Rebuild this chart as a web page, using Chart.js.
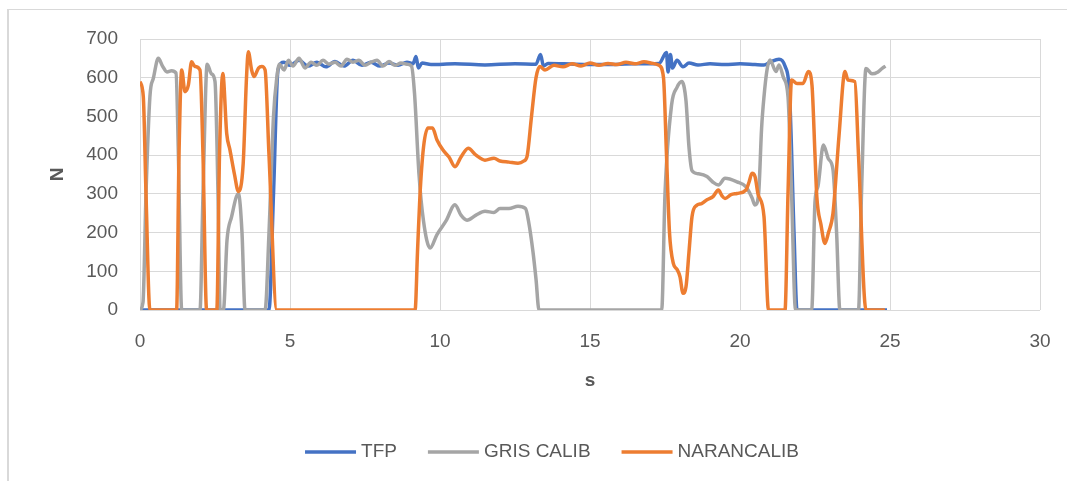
<!DOCTYPE html>
<html>
<head>
<meta charset="utf-8">
<script src="https://cdn.jsdelivr.net/npm/chart.js@4/dist/chart.umd.min.js"></script>
<style>
	html, body { margin: 0; padding: 0; background: #fff; overflow: hidden; }
	#wrap { position: relative; width: 1067px; height: 481px; }
	#frame { position: absolute; left: 7px; top: 9px; width: 1100px; height: 500px; border-top: 1px solid #d9d9d9; border-left: 2px solid #d9d9d9; }
	canvas { position: absolute; left: 0; top: 0; }
</style>
</head>
<body>
<div id="wrap">
	<div id="frame"></div>
	<canvas id="chart" width="1067" height="481"></canvas>
</div>
<script>
	'use strict';

	var seriesNames = ['TFP', 'GRIS CALIB', 'NARANCALIB'];
	var seriesColors = ['#4472C4', '#A5A5A5', '#ED7D31'];

	var tfpX = [0, 4.3, 4.45, 4.6, 4.8, 5.0, 5.3, 5.6, 5.9, 6.2, 6.5, 6.8, 7.1, 7.4, 7.7, 8.0, 8.3, 8.6, 8.9, 9.1, 9.2, 9.28, 9.4, 9.7, 10.5, 11.5, 12.5, 13.2, 13.35, 13.45, 13.6, 14.5, 15.5, 16.5, 17.3, 17.55, 17.6, 17.68, 17.75, 17.9, 18.1, 18.3, 18.6, 19.0, 19.5, 20.0, 20.5, 20.8, 21.0, 21.3, 21.5, 21.65, 21.8, 21.9, 24.9];
	var tfpY = [0, 0, 300, 620, 640, 632, 645, 630, 640, 628, 642, 630, 645, 632, 640, 630, 638, 632, 640, 636, 655, 625, 638, 634, 636, 633, 636, 635, 660, 630, 637, 635, 634, 636, 637, 665, 615, 660, 625, 645, 628, 638, 633, 636, 634, 636, 634, 633, 640, 648, 630, 560, 200, 0, 0];

	var grisX = [0, 0.1, 0.2, 0.33, 0.45, 0.61, 0.75, 0.9, 1.05, 1.2, 1.28, 1.39, 2.0, 2.1, 2.24, 2.38, 2.5, 2.6, 2.67, 2.78, 2.9, 3.05, 3.28, 3.4, 3.5, 4.17, 4.3, 4.45, 4.56, 4.65, 4.8, 4.95, 5.1, 5.3, 5.5, 5.7, 5.9, 6.1, 6.3, 6.5, 6.7, 6.9, 7.1, 7.3, 7.5, 7.7, 7.9, 8.1, 8.3, 8.5, 8.7, 8.9, 9.05, 9.15, 9.3, 9.45, 9.67, 9.9, 10.2, 10.5, 10.7, 10.9, 11.2, 11.5, 11.8, 12.0, 12.3, 12.6, 12.85, 12.95, 13.1, 13.2, 13.3, 17.39, 17.5, 17.72, 17.9, 18.06, 18.2, 18.3, 18.4, 18.6, 18.9, 19.1, 19.28, 19.5, 19.9, 20.2, 20.4, 20.5, 20.62, 20.72, 20.8, 20.9, 21.0, 21.2, 21.3, 21.45, 21.6, 21.72, 21.85, 22.39, 22.5, 22.6, 22.78, 22.95, 23.1, 23.22, 23.33, 23.95, 24.05, 24.2, 24.4, 24.6, 24.75, 24.85];
	var grisY = [0, 20, 300, 551, 600, 650, 630, 615, 618, 612, 400, 0, 0, 300, 635, 610, 590, 300, 0, 0, 180, 240, 300, 200, 0, 0, 200, 500, 600, 635, 620, 645, 630, 650, 625, 640, 632, 645, 635, 640, 630, 648, 640, 645, 632, 640, 645, 630, 642, 632, 638, 635, 630, 560, 350, 230, 160, 195, 230, 272, 245, 232, 245, 255, 252, 262, 262, 268, 262, 230, 150, 80, 0, 0, 300, 530, 575, 590, 540, 420, 360, 352, 345, 330, 323, 340, 331, 318, 290, 271, 300, 470, 551, 620, 646, 616, 633, 600, 551, 300, 0, 0, 280, 320, 426, 390, 362, 200, 0, 0, 300, 624, 610, 615, 625, 630];

	var naranX = [0, 0.11, 0.2, 0.33, 1.22, 1.3, 1.39, 1.5, 1.61, 1.72, 1.83, 2.0, 2.1, 2.22, 2.56, 2.65, 2.76, 2.89, 3.0, 3.15, 3.28, 3.44, 3.55, 3.61, 3.72, 3.8, 3.95, 4.06, 4.17, 4.3, 4.56, 9.17, 9.25, 9.33, 9.45, 9.6, 9.75, 9.9, 10.1, 10.3, 10.5, 10.7, 10.94, 11.2, 11.5, 11.8, 12.0, 12.3, 12.6, 12.8, 12.9, 13.05, 13.2, 13.33, 13.5, 13.8, 14.1, 14.4, 14.7, 15.0, 15.3, 15.6, 15.9, 16.2, 16.5, 16.8, 17.1, 17.3, 17.45, 17.55, 17.65, 17.78, 17.9, 18.0, 18.1, 18.2, 18.3, 18.4, 18.55, 18.72, 18.9, 19.1, 19.28, 19.4, 19.5, 19.7, 19.9, 20.2, 20.3, 20.4, 20.5, 20.6, 20.8, 20.95, 21.5, 21.6, 21.72, 21.9, 22.1, 22.28, 22.4, 22.5, 22.56, 22.7, 22.83, 22.95, 23.1, 23.3, 23.5, 23.6, 23.83, 23.95, 24.2, 24.83];
	var naranY = [590, 551, 300, 0, 0, 400, 620, 564, 580, 641, 629, 620, 400, 0, 0, 400, 611, 456, 413, 350, 306, 379, 600, 667, 620, 603, 625, 629, 620, 400, 0, 0, 150, 293, 420, 470, 470, 439, 413, 395, 370, 395, 418, 400, 387, 392, 385, 382, 379, 385, 396, 500, 600, 629, 620, 632, 628, 636, 630, 638, 632, 637, 634, 640, 636, 641, 637, 632, 600, 400, 200, 120, 105, 86, 43, 60, 150, 241, 270, 275, 285, 293, 310, 295, 288, 298, 301, 310, 330, 353, 345, 300, 241, 0, 0, 300, 594, 585, 585, 616, 580, 400, 293, 220, 172, 200, 250, 450, 616, 594, 590, 400, 0, 0];

	var xTicks = [0, 5, 10, 15, 20, 25, 30];
	var yTicks = [0, 100, 200, 300, 400, 500, 600, 700];

	var textColor = '#595959';
	var gridColor = '#d9d9d9';
	var fontFamily = "'Liberation Sans', Arial, sans-serif";

	function toPoints(xs, ys) {
		var pts = [];
		for (var i = 0; i < xs.length; i++) {
			pts.push({x: xs[i], y: ys[i]});
		}
		return pts;
	}

	// legend drawn by hand to sit where Excel put it
	var excelLegend = {
		id: 'excelLegend',
		afterDraw: function (chart) {
			var ctx = chart.ctx,
				sampleWidth = 51,
				textGap = 5,
				itemGap = 31,
				centerX = 552,
				y = 452,
				widths = [],
				total = 0;

			ctx.save();
			ctx.font = '19px ' + fontFamily;
			seriesNames.forEach(function (name, i) {
				var w = sampleWidth + textGap + ctx.measureText(name).width;
				widths.push(w);
				total += w + (i > 0 ? itemGap : 0);
			});

			var x = centerX - total / 2;
			ctx.textBaseline = 'middle';
			ctx.textAlign = 'left';
			seriesNames.forEach(function (name, i) {
				ctx.strokeStyle = seriesColors[i];
				ctx.lineWidth = 3.5;
				ctx.beginPath();
				ctx.moveTo(x, y);
				ctx.lineTo(x + sampleWidth, y);
				ctx.stroke();
				ctx.fillStyle = textColor;
				ctx.fillText(name, x + sampleWidth + textGap, y);
				x += widths[i] + itemGap;
			});
			ctx.restore();
		}
	};

	var xsList = [tfpX, grisX, naranX];
	var ysList = [tfpY, grisY, naranY];

	new Chart(document.getElementById('chart'), {
		type: 'line',
		data: {
			datasets: seriesNames.map(function (name, i) {
				return {
					label: name,
					data: toPoints(xsList[i], ysList[i]),
					borderColor: seriesColors[i],
					backgroundColor: seriesColors[i],
					borderWidth: 3.5,
					pointRadius: 0,
					cubicInterpolationMode: 'monotone',
					fill: false,
					order: 3 - i
				};
			})
		},
		options: {
			responsive: false,
			animation: false,
			layout: {
				padding: {left: 0, right: 27, top: 39, bottom: 0}
			},
			plugins: {
				legend: {display: false},
				tooltip: {enabled: false}
			},
			scales: {
				x: {
					type: 'linear',
					min: 0,
					max: 30,
					afterBuildTicks: function (scale) {
						scale.ticks = xTicks.map(function (v) { return {value: v}; });
					},
					afterFit: function (scale) {
						scale.height = 171;
						scale.paddingLeft = 0;
						scale.paddingRight = 0;
					},
					grid: {color: gridColor, lineWidth: 1, drawTicks: false},
					border: {display: false},
					ticks: {
						color: textColor,
						padding: 20,
						font: {family: fontFamily, size: 19}
					},
					title: {
						display: true,
						text: 's',
						color: textColor,
						padding: {top: 0, bottom: 89},
						font: {family: fontFamily, size: 19, weight: 'bold'}
					}
				},
				y: {
					min: 0,
					max: 700,
					afterBuildTicks: function (scale) {
						scale.ticks = yTicks.map(function (v) { return {value: v}; });
					},
					afterFit: function (scale) {
						scale.width = 140;
					},
					grid: {color: gridColor, lineWidth: 1, drawTicks: false},
					border: {display: false},
					ticks: {
						color: textColor,
						padding: 22,
						font: {family: fontFamily, size: 19}
					},
					title: {
						display: true,
						text: 'N',
						color: textColor,
						padding: {top: 46, bottom: 0},
						font: {family: fontFamily, size: 19, weight: 'bold'}
					}
				}
			}
		},
		plugins: [excelLegend]
	});
</script>
</body>
</html>
